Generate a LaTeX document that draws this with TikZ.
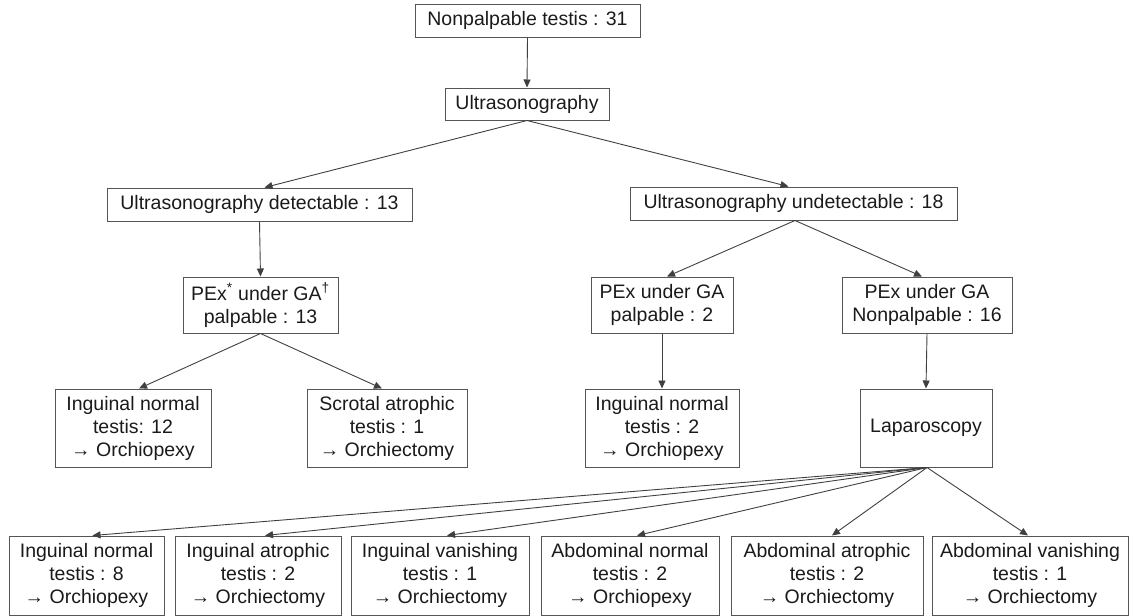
\documentclass[tikz,border=0pt]{standalone}
\usepackage{fontspec}
\setmainfont{Liberation Sans}
\usetikzlibrary{arrows.meta}
\definecolor{boxgray}{HTML}{555555}
\definecolor{linegray}{HTML}{404040}
\definecolor{txt}{HTML}{1A1A1A}
\begin{document}
\begin{tikzpicture}[x=1pt,y=-1pt,
  box/.style 2 args={draw=boxgray, line width=1pt, inner sep=0pt, align=center,
    text=txt, font=\fontsize{19.5}{23}\selectfont,
    minimum width=#1pt, minimum height=#2pt},
  conn/.style={draw=linegray, line width=0.9pt, -{Triangle[length=8pt,width=7pt]}}]
\useasboundingbox (0,0) rectangle (1133,616);
% boxes
\node[box={225}{33}] (top) at (527.5,20.5) {Nonpalpable testis : 31};
\node[box={164}{32}] (us) at (527,104) {Ultrasonography};
\node[box={305}{33}] (det) at (259.5,204.5) {Ultrasonography detectable : 13};
\node[box={327}{33}] (undet) at (793.5,203.5) {Ultrasonography undetectable : 18};
\node[box={155}{56}] (pexA) at (260.5,305) {PEx\textsuperscript{*} under GA\textsuperscript{\textdagger}\\palpable : 13};
\node[box={142}{56}] (pexB) at (662,305) {PEx under GA\\palpable : 2};
\node[box={170}{56}] (pexC) at (927,305) {PEx under GA\\Nonpalpable : 16};
\node[box={156}{78}] (inA) at (133,428) {Inguinal normal\\testis: 12\\→ Orchiopexy};
\node[box={160}{78}] (scr) at (387,428) {Scrotal atrophic\\testis : 1\\→ Orchiectomy};
\node[box={154}{78}] (inB) at (662,428) {Inguinal normal\\testis : 2\\→ Orchiopexy};
\node[box={132}{78}] (lap) at (926,428) {Laparoscopy};
\node[box={155}{79}] (b1) at (86.5,575.5) {Inguinal normal\\testis : 8\\→ Orchiopexy};
\node[box={166}{79}] (b2) at (258,575.5) {Inguinal atrophic\\testis : 2\\→ Orchiectomy};
\node[box={178}{79}] (b3) at (440,575.5) {Inguinal vanishing\\testis : 1\\→ Orchiectomy};
\node[box={178}{79}] (b4) at (630,575.5) {Abdominal normal\\testis : 2\\→ Orchiopexy};
\node[box={192}{79}] (b5) at (827,575.5) {Abdominal atrophic\\testis : 2\\→ Orchiectomy};
\node[box={196}{79}] (b6) at (1030,575.5) {Abdominal vanishing\\testis : 1\\→ Orchiectomy};
% connectors
\draw[conn] (top.south) -- (us.north);
\draw[conn] (us.south) -- ([xshift=5pt]det.north);
\draw[conn] (us.south) -- ([xshift=-5pt]undet.north);
\draw[conn] (det.south) -- (pexA.north);
\draw[conn] ([xshift=1.5pt]undet.south) -- ([xshift=5pt]pexB.north);
\draw[conn] ([xshift=1.5pt]undet.south) -- ([xshift=-5pt]pexC.north);
\draw[conn] (pexA.south) -- ([xshift=6pt]inA.north);
\draw[conn] (pexA.south) -- ([xshift=-5pt]scr.north);
\draw[conn] (pexB.south) -- (inB.north);
\draw[conn] (pexC.south) -- (lap.north);
\draw[conn] ([xshift=1pt]lap.south) -- ([xshift=6pt]b1.north);
\draw[conn] ([xshift=1pt]lap.south) -- ([xshift=7pt]b2.north);
\draw[conn] ([xshift=1pt]lap.south) -- ([xshift=7pt]b3.north);
\draw[conn] ([xshift=1pt]lap.south) -- ([xshift=7pt]b4.north);
\draw[conn] ([xshift=1pt]lap.south) -- ([xshift=5pt]b5.north);
\draw[conn] ([xshift=1pt]lap.south) -- ([xshift=-2pt]b6.north);
\end{tikzpicture}
\end{document}
